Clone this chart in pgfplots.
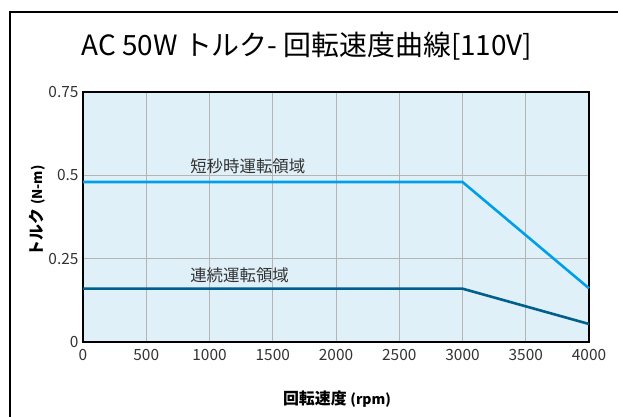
\documentclass[border=0pt]{standalone}
\usepackage{fontspec}
\setmainfont{Noto Sans CJK JP}
\usepackage{pgfplots}
\pgfplotsset{compat=1.18}
\definecolor{bgblue}{HTML}{DFF0F9}
\definecolor{lblue}{HTML}{00A0E9}
\definecolor{dblue}{HTML}{005F8C}
\definecolor{gridgray}{HTML}{B4B4B4}
\definecolor{txt}{HTML}{333333}
\begin{document}
\begin{tikzpicture}[x=1bp,y=1bp]
\useasboundingbox (0,0) rectangle (618,416);
\draw[line width=2.2bp,black] (10,-5) -- (10,404) -- (625,404);
\node[font=\fontsize{28}{30}\selectfont,text=black] at (307,370) {AC 50W トルク- 回転速度曲線[110V]};
\begin{axis}[
  at={(83bp,74bp)}, anchor=south west,
  width=506bp, height=250bp, scale only axis,
  xmin=0, xmax=4000, ymin=0, ymax=0.75,
  xtick={0,500,...,4000},
  xticklabels={0,500,1000,1500,2000,2500,3000,3500,4000},
  ytick={0,0.25,0.5,0.75},
  yticklabels={0,0.25,0.5,0.75},
  major tick length=0pt,
  grid=major,
  major grid style={gridgray, line width=0.9bp},
  axis line style={black, line width=2bp},
  axis background/.style={fill=bgblue},
  xticklabel style={font=\fontsize{15.5}{17}\selectfont, text=txt, yshift=-4bp},
  yticklabel style={font=\fontsize{15.5}{17}\selectfont, text=txt, xshift=-1bp},
  clip=false,
]
\addplot[lblue, line width=2.6bp] coordinates {(0,0.48) (3000,0.48) (4000,0.161)};
\addplot[dblue, line width=2.6bp] coordinates {(0,0.16) (3000,0.16) (4000,0.054)};
\node[anchor=west, font=\fontsize{16.5}{18}\selectfont, text=txt] at (axis cs:820,0.528) {短秒時運転領域};
\node[anchor=west, font=\fontsize{16.5}{18}\selectfont, text=txt] at (axis cs:820,0.199) {連続運転領域};
\end{axis}
\node[font=\bfseries\fontsize{16}{18}\selectfont, text=black] at (337,17) {回転速度 \fontsize{14}{16}\selectfont(rpm)};
\node[rotate=90, font=\bfseries\fontsize{16}{18}\selectfont, text=black] at (37,205) {トルク \fontsize{13.5}{15}\selectfont(N-m)};
\end{tikzpicture}
\end{document}
